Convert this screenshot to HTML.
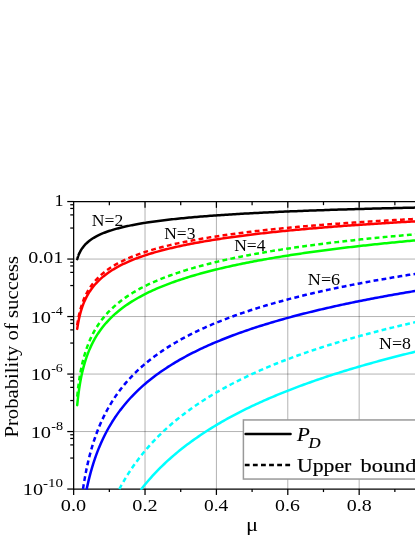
<!DOCTYPE html><html><head><meta charset="utf-8"><style>html,body{margin:0;padding:0;background:#fff}body{width:415px;height:537px;overflow:hidden;font-family:"Liberation Serif",serif}</style></head><body><div style="will-change:transform;width:415px;height:537px"><svg width="415" height="537" viewBox="0 0 415 537" style="display:block;font-family:'Liberation Serif',serif"><rect width="415" height="537" fill="#fff"/><line x1="145.03" y1="201.55" x2="145.03" y2="489.05" stroke="#000" stroke-opacity="0.3" stroke-width="1"/><line x1="216.41" y1="201.55" x2="216.41" y2="489.05" stroke="#000" stroke-opacity="0.3" stroke-width="1"/><line x1="287.79" y1="201.55" x2="287.79" y2="489.05" stroke="#000" stroke-opacity="0.3" stroke-width="1"/><line x1="359.17" y1="201.55" x2="359.17" y2="489.05" stroke="#000" stroke-opacity="0.3" stroke-width="1"/><line x1="73.65" y1="259.05" x2="415" y2="259.05" stroke="#000" stroke-opacity="0.3" stroke-width="1"/><line x1="73.65" y1="316.55" x2="415" y2="316.55" stroke="#000" stroke-opacity="0.3" stroke-width="1"/><line x1="73.65" y1="374.05" x2="415" y2="374.05" stroke="#000" stroke-opacity="0.3" stroke-width="1"/><line x1="73.65" y1="431.55" x2="415" y2="431.55" stroke="#000" stroke-opacity="0.3" stroke-width="1"/><g stroke="#000" stroke-width="1.25" fill="none"><line x1="73.65" y1="200.93" x2="73.65" y2="489.68"/><line x1="73.65" y1="201.55" x2="415" y2="201.55"/><line x1="73.65" y1="489.05" x2="415" y2="489.05"/><line x1="73.65" y1="489.05" x2="73.65" y2="494.95"/><line x1="109.34" y1="489.05" x2="109.34" y2="492.05"/><line x1="109.34" y1="201.55" x2="109.34" y2="205.15"/><line x1="145.03" y1="489.05" x2="145.03" y2="494.95"/><line x1="145.03" y1="201.55" x2="145.03" y2="207.85"/><line x1="180.72" y1="489.05" x2="180.72" y2="492.05"/><line x1="180.72" y1="201.55" x2="180.72" y2="205.15"/><line x1="216.41" y1="489.05" x2="216.41" y2="494.95"/><line x1="216.41" y1="201.55" x2="216.41" y2="207.85"/><line x1="252.10" y1="489.05" x2="252.10" y2="492.05"/><line x1="252.10" y1="201.55" x2="252.10" y2="205.15"/><line x1="287.79" y1="489.05" x2="287.79" y2="494.95"/><line x1="287.79" y1="201.55" x2="287.79" y2="207.85"/><line x1="323.48" y1="489.05" x2="323.48" y2="492.05"/><line x1="323.48" y1="201.55" x2="323.48" y2="205.15"/><line x1="359.17" y1="489.05" x2="359.17" y2="494.95"/><line x1="359.17" y1="201.55" x2="359.17" y2="207.85"/><line x1="394.86" y1="489.05" x2="394.86" y2="492.05"/><line x1="394.86" y1="201.55" x2="394.86" y2="205.15"/><line x1="67.25" y1="201.55" x2="73.65" y2="201.55"/><line x1="70.25" y1="204.75" x2="73.65" y2="204.75"/><line x1="70.25" y1="208.45" x2="73.65" y2="208.45"/><line x1="70.25" y1="214.90" x2="73.65" y2="214.90"/><line x1="70.25" y1="228.05" x2="73.65" y2="228.05"/><line x1="67.25" y1="259.05" x2="73.65" y2="259.05"/><line x1="70.25" y1="262.25" x2="73.65" y2="262.25"/><line x1="70.25" y1="265.95" x2="73.65" y2="265.95"/><line x1="70.25" y1="272.40" x2="73.65" y2="272.40"/><line x1="70.25" y1="285.55" x2="73.65" y2="285.55"/><line x1="67.25" y1="316.55" x2="73.65" y2="316.55"/><line x1="70.25" y1="319.75" x2="73.65" y2="319.75"/><line x1="70.25" y1="323.45" x2="73.65" y2="323.45"/><line x1="70.25" y1="329.90" x2="73.65" y2="329.90"/><line x1="70.25" y1="343.05" x2="73.65" y2="343.05"/><line x1="67.25" y1="374.05" x2="73.65" y2="374.05"/><line x1="70.25" y1="377.25" x2="73.65" y2="377.25"/><line x1="70.25" y1="380.95" x2="73.65" y2="380.95"/><line x1="70.25" y1="387.40" x2="73.65" y2="387.40"/><line x1="70.25" y1="400.55" x2="73.65" y2="400.55"/><line x1="67.25" y1="431.55" x2="73.65" y2="431.55"/><line x1="70.25" y1="434.75" x2="73.65" y2="434.75"/><line x1="70.25" y1="438.45" x2="73.65" y2="438.45"/><line x1="70.25" y1="444.90" x2="73.65" y2="444.90"/><line x1="70.25" y1="458.05" x2="73.65" y2="458.05"/><line x1="67.25" y1="489.05" x2="73.65" y2="489.05"/></g><defs><clipPath id="cp"><rect x="73.65" y="201.55" width="346.35" height="288.20"/></clipPath></defs><g stroke-linejoin="round" clip-path="url(#cp)"><path d="M119.34,489.05 L119.51,488.73 L120.45,487.00 L121.40,485.27 L122.37,483.54 L123.36,481.81 L124.37,480.09 L125.40,478.36 L126.45,476.64 L127.52,474.91 L128.61,473.19 L129.73,471.46 L130.87,469.74 L132.03,468.02 L133.21,466.30 L134.42,464.58 L135.66,462.86 L136.92,461.14 L138.20,459.42 L139.51,457.71 L140.85,455.99 L142.22,454.27 L143.61,452.56 L145.03,450.84 L146.95,448.59 L148.86,446.39 L150.78,444.25 L152.69,442.16 L154.61,440.13 L156.53,438.14 L158.44,436.20 L160.36,434.31 L162.28,432.46 L164.19,430.65 L166.11,428.87 L168.02,427.14 L169.94,425.44 L171.86,423.78 L173.77,422.15 L175.69,420.55 L177.61,418.98 L179.52,417.44 L181.44,415.93 L183.35,414.45 L185.27,413.00 L187.19,411.57 L189.10,410.16 L191.02,408.78 L192.94,407.42 L194.85,406.09 L196.77,404.78 L198.68,403.49 L200.60,402.21 L202.52,400.96 L204.43,399.73 L206.35,398.52 L208.27,397.32 L210.18,396.15 L212.10,394.99 L214.01,393.84 L215.93,392.72 L217.85,391.61 L219.76,390.51 L221.68,389.43 L223.60,388.36 L225.51,387.31 L227.43,386.28 L229.34,385.25 L231.26,384.24 L233.18,383.24 L235.09,382.26 L237.01,381.28 L238.93,380.32 L240.84,379.37 L242.76,378.44 L244.67,377.51 L246.59,376.59 L248.51,375.69 L250.42,374.79 L252.34,373.91 L254.26,373.04 L256.17,372.17 L258.09,371.32 L260.00,370.47 L261.92,369.64 L263.84,368.81 L265.75,367.99 L267.67,367.18 L269.59,366.38 L271.50,365.59 L273.42,364.80 L275.33,364.03 L277.25,363.26 L279.17,362.50 L281.08,361.75 L283.00,361.00 L284.92,360.26 L286.83,359.53 L288.75,358.81 L290.66,358.09 L292.58,357.38 L294.50,356.68 L296.41,355.98 L298.33,355.29 L300.25,354.61 L302.16,353.93 L304.08,353.26 L305.99,352.59 L307.91,351.93 L309.83,351.28 L311.74,350.63 L313.66,349.99 L315.58,349.35 L317.49,348.72 L319.41,348.09 L321.32,347.47 L323.24,346.85 L325.16,346.24 L327.07,345.64 L328.99,345.04 L330.91,344.44 L332.82,343.85 L334.74,343.27 L336.65,342.69 L338.57,342.11 L340.49,341.54 L342.40,340.97 L344.32,340.41 L346.24,339.85 L348.15,339.29 L350.07,338.74 L351.98,338.20 L353.90,337.66 L355.82,337.12 L357.73,336.59 L359.65,336.06 L361.57,335.53 L363.48,335.01 L365.40,334.49 L367.31,333.98 L369.23,333.47 L371.15,332.96 L373.06,332.46 L374.98,331.96 L376.90,331.46 L378.81,330.97 L380.73,330.48 L382.64,329.99 L384.56,329.51 L386.48,329.03 L388.39,328.55 L390.31,328.08 L392.23,327.61 L394.14,327.15 L396.06,326.68 L397.97,326.22 L399.89,325.77 L401.81,325.31 L403.72,324.86 L405.64,324.41 L407.56,323.97 L409.47,323.53 L411.39,323.09 L413.30,322.65 L415.22,322.22 L417.14,321.78 L419.05,321.36 L420.97,320.93 L422.89,320.51 L424.80,320.09 L426.72,319.67 L428.63,319.25 L430.55,318.84" fill="none" stroke="#00ffff" stroke-width="2.50" stroke-dasharray="4.8,3.3"/><path d="M141.35,489.05 L142.22,487.95 L143.61,486.22 L145.03,484.49 L146.95,482.20 L148.86,479.98 L150.78,477.81 L152.69,475.70 L154.61,473.63 L156.53,471.62 L158.44,469.65 L160.36,467.73 L162.28,465.85 L164.19,464.01 L166.11,462.21 L168.02,460.45 L169.94,458.72 L171.86,457.03 L173.77,455.37 L175.69,453.75 L177.61,452.15 L179.52,450.59 L181.44,449.05 L183.35,447.54 L185.27,446.06 L187.19,444.60 L189.10,443.17 L191.02,441.76 L192.94,440.37 L194.85,439.01 L196.77,437.67 L198.68,436.35 L200.60,435.05 L202.52,433.77 L204.43,432.51 L206.35,431.27 L208.27,430.04 L210.18,428.84 L212.10,427.65 L214.01,426.48 L215.93,425.32 L217.85,424.18 L219.76,423.06 L221.68,421.95 L223.60,420.86 L225.51,419.78 L227.43,418.71 L229.34,417.66 L231.26,416.62 L233.18,415.59 L235.09,414.58 L237.01,413.57 L238.93,412.58 L240.84,411.61 L242.76,410.64 L244.67,409.68 L246.59,408.74 L248.51,407.80 L250.42,406.88 L252.34,405.97 L254.26,405.06 L256.17,404.17 L258.09,403.29 L260.00,402.41 L261.92,401.55 L263.84,400.69 L265.75,399.84 L267.67,399.01 L269.59,398.18 L271.50,397.35 L273.42,396.54 L275.33,395.74 L277.25,394.94 L279.17,394.15 L281.08,393.37 L283.00,392.59 L284.92,391.82 L286.83,391.06 L288.75,390.31 L290.66,389.56 L292.58,388.82 L294.50,388.09 L296.41,387.36 L298.33,386.64 L300.25,385.93 L302.16,385.22 L304.08,384.52 L305.99,383.83 L307.91,383.14 L309.83,382.45 L311.74,381.77 L313.66,381.10 L315.58,380.44 L317.49,379.77 L319.41,379.12 L321.32,378.47 L323.24,377.82 L325.16,377.18 L327.07,376.55 L328.99,375.92 L330.91,375.29 L332.82,374.67 L334.74,374.06 L336.65,373.45 L338.57,372.84 L340.49,372.24 L342.40,371.64 L344.32,371.05 L346.24,370.46 L348.15,369.88 L350.07,369.30 L351.98,368.72 L353.90,368.15 L355.82,367.58 L357.73,367.02 L359.65,366.46 L361.57,365.90 L363.48,365.35 L365.40,364.80 L367.31,364.26 L369.23,363.72 L371.15,363.18 L373.06,362.65 L374.98,362.12 L376.90,361.59 L378.81,361.07 L380.73,360.55 L382.64,360.04 L384.56,359.52 L386.48,359.01 L388.39,358.51 L390.31,358.01 L392.23,357.51 L394.14,357.01 L396.06,356.52 L397.97,356.03 L399.89,355.54 L401.81,355.06 L403.72,354.58 L405.64,354.10 L407.56,353.62 L409.47,353.15 L411.39,352.68 L413.30,352.21 L415.22,351.75 L417.14,351.29 L419.05,350.83 L420.97,350.37 L422.89,349.92 L424.80,349.47 L426.72,349.02 L428.63,348.58 L430.55,348.14" fill="none" stroke="#00ffff" stroke-width="2.50" stroke-linecap="round"/><path d="M82.99,489.05 L83.02,488.85 L83.21,487.60 L83.40,486.35 L83.60,485.10 L83.80,483.85 L84.01,482.60 L84.22,481.35 L84.43,480.11 L84.65,478.86 L84.88,477.61 L85.10,476.36 L85.34,475.11 L85.57,473.86 L85.82,472.61 L86.06,471.37 L86.32,470.12 L86.57,468.87 L86.84,467.62 L87.10,466.38 L87.38,465.13 L87.66,463.88 L87.94,462.63 L88.23,461.39 L88.53,460.14 L88.83,458.90 L89.14,457.65 L89.45,456.40 L89.77,455.16 L90.10,453.91 L90.43,452.67 L90.77,451.42 L91.12,450.18 L91.48,448.93 L91.84,447.69 L92.21,446.44 L92.59,445.20 L92.97,443.95 L93.36,442.71 L93.76,441.47 L94.17,440.22 L94.59,438.98 L95.01,437.74 L95.45,436.49 L95.89,435.25 L96.34,434.01 L96.80,432.77 L97.27,431.53 L97.75,430.29 L98.24,429.04 L98.74,427.80 L99.25,426.56 L99.77,425.32 L100.30,424.08 L100.84,422.84 L101.39,421.61 L101.96,420.37 L102.53,419.13 L103.12,417.89 L103.72,416.65 L104.33,415.41 L104.95,414.18 L105.59,412.94 L106.24,411.70 L106.90,410.47 L107.57,409.23 L108.26,408.00 L108.97,406.76 L109.68,405.53 L110.41,404.30 L111.16,403.06 L111.92,401.83 L112.70,400.60 L113.49,399.36 L114.30,398.13 L115.13,396.90 L115.97,395.67 L116.83,394.44 L117.71,393.21 L118.60,391.98 L119.51,390.75 L120.45,389.52 L121.40,388.30 L122.37,387.07 L123.36,385.84 L124.37,384.62 L125.40,383.39 L126.45,382.17 L127.52,380.94 L128.61,379.72 L129.73,378.50 L130.87,377.28 L132.03,376.05 L133.21,374.83 L134.42,373.61 L135.66,372.39 L136.92,371.18 L138.20,369.96 L139.51,368.74 L140.85,367.52 L142.22,366.31 L143.61,365.09 L145.03,363.88 L146.95,362.28 L148.86,360.73 L150.78,359.21 L152.69,357.73 L154.61,356.29 L156.53,354.89 L158.44,353.52 L160.36,352.18 L162.28,350.87 L164.19,349.59 L166.11,348.34 L168.02,347.11 L169.94,345.91 L171.86,344.74 L173.77,343.59 L175.69,342.46 L177.61,341.35 L179.52,340.27 L181.44,339.20 L183.35,338.16 L185.27,337.13 L187.19,336.13 L189.10,335.14 L191.02,334.16 L192.94,333.21 L194.85,332.27 L196.77,331.35 L198.68,330.44 L200.60,329.54 L202.52,328.66 L204.43,327.80 L206.35,326.94 L208.27,326.10 L210.18,325.28 L212.10,324.46 L214.01,323.66 L215.93,322.87 L217.85,322.09 L219.76,321.32 L221.68,320.56 L223.60,319.81 L225.51,319.08 L227.43,318.35 L229.34,317.63 L231.26,316.92 L233.18,316.22 L235.09,315.53 L237.01,314.85 L238.93,314.18 L240.84,313.51 L242.76,312.86 L244.67,312.21 L246.59,311.57 L248.51,310.94 L250.42,310.31 L252.34,309.69 L254.26,309.08 L256.17,308.48 L258.09,307.88 L260.00,307.29 L261.92,306.71 L263.84,306.13 L265.75,305.56 L267.67,305.00 L269.59,304.44 L271.50,303.88 L273.42,303.34 L275.33,302.80 L277.25,302.26 L279.17,301.73 L281.08,301.21 L283.00,300.69 L284.92,300.18 L286.83,299.67 L288.75,299.16 L290.66,298.66 L292.58,298.17 L294.50,297.68 L296.41,297.20 L298.33,296.72 L300.25,296.24 L302.16,295.77 L304.08,295.30 L305.99,294.84 L307.91,294.38 L309.83,293.93 L311.74,293.48 L313.66,293.04 L315.58,292.59 L317.49,292.16 L319.41,291.72 L321.32,291.29 L323.24,290.87 L325.16,290.44 L327.07,290.03 L328.99,289.61 L330.91,289.20 L332.82,288.79 L334.74,288.38 L336.65,287.98 L338.57,287.58 L340.49,287.19 L342.40,286.80 L344.32,286.41 L346.24,286.02 L348.15,285.64 L350.07,285.26 L351.98,284.88 L353.90,284.51 L355.82,284.14 L357.73,283.77 L359.65,283.41 L361.57,283.05 L363.48,282.69 L365.40,282.33 L367.31,281.98 L369.23,281.62 L371.15,281.27 L373.06,280.93 L374.98,280.59 L376.90,280.24 L378.81,279.91 L380.73,279.57 L382.64,279.24 L384.56,278.90 L386.48,278.58 L388.39,278.25 L390.31,277.92 L392.23,277.60 L394.14,277.28 L396.06,276.96 L397.97,276.65 L399.89,276.34 L401.81,276.03 L403.72,275.72 L405.64,275.41 L407.56,275.10 L409.47,274.80 L411.39,274.50 L413.30,274.20 L415.22,273.91 L417.14,273.61 L419.05,273.32 L420.97,273.03 L422.89,272.74 L424.80,272.45 L426.72,272.17 L428.63,271.88 L430.55,271.60" fill="none" stroke="#0000ff" stroke-width="2.50" stroke-dasharray="4.8,3.3"/><path d="M86.69,489.05 L86.84,488.37 L87.10,487.12 L87.38,485.87 L87.66,484.62 L87.94,483.37 L88.23,482.12 L88.53,480.87 L88.83,479.62 L89.14,478.37 L89.45,477.12 L89.77,475.87 L90.10,474.62 L90.43,473.37 L90.77,472.12 L91.12,470.87 L91.48,469.62 L91.84,468.38 L92.21,467.13 L92.59,465.88 L92.97,464.63 L93.36,463.38 L93.76,462.13 L94.17,460.89 L94.59,459.64 L95.01,458.39 L95.45,457.14 L95.89,455.89 L96.34,454.65 L96.80,453.40 L97.27,452.15 L97.75,450.91 L98.24,449.66 L98.74,448.41 L99.25,447.17 L99.77,445.92 L100.30,444.67 L100.84,443.43 L101.39,442.18 L101.96,440.94 L102.53,439.69 L103.12,438.45 L103.72,437.20 L104.33,435.96 L104.95,434.71 L105.59,433.47 L106.24,432.23 L106.90,430.98 L107.57,429.74 L108.26,428.50 L108.97,427.25 L109.68,426.01 L110.41,424.77 L111.16,423.53 L111.92,422.28 L112.70,421.04 L113.49,419.80 L114.30,418.56 L115.13,417.32 L115.97,416.08 L116.83,414.84 L117.71,413.60 L118.60,412.36 L119.51,411.12 L120.45,409.88 L121.40,408.64 L122.37,407.41 L123.36,406.17 L124.37,404.93 L125.40,403.69 L126.45,402.46 L127.52,401.22 L128.61,399.98 L129.73,398.75 L130.87,397.51 L132.03,396.28 L133.21,395.04 L134.42,393.81 L135.66,392.58 L136.92,391.34 L138.20,390.11 L139.51,388.88 L140.85,387.65 L142.22,386.41 L143.61,385.18 L145.03,383.95 L146.95,382.33 L148.86,380.75 L150.78,379.22 L152.69,377.72 L154.61,376.26 L156.53,374.83 L158.44,373.44 L160.36,372.08 L162.28,370.74 L164.19,369.44 L166.11,368.17 L168.02,366.92 L169.94,365.70 L171.86,364.50 L173.77,363.33 L175.69,362.18 L177.61,361.05 L179.52,359.95 L181.44,358.86 L183.35,357.79 L185.27,356.74 L187.19,355.72 L189.10,354.70 L191.02,353.71 L192.94,352.73 L194.85,351.77 L196.77,350.83 L198.68,349.90 L200.60,348.98 L202.52,348.08 L204.43,347.19 L206.35,346.31 L208.27,345.45 L210.18,344.60 L212.10,343.77 L214.01,342.94 L215.93,342.13 L217.85,341.33 L219.76,340.54 L221.68,339.76 L223.60,338.99 L225.51,338.23 L227.43,337.48 L229.34,336.74 L231.26,336.01 L233.18,335.29 L235.09,334.58 L237.01,333.88 L238.93,333.18 L240.84,332.49 L242.76,331.82 L244.67,331.15 L246.59,330.49 L248.51,329.83 L250.42,329.18 L252.34,328.54 L254.26,327.91 L256.17,327.29 L258.09,326.67 L260.00,326.06 L261.92,325.45 L263.84,324.85 L265.75,324.26 L267.67,323.68 L269.59,323.10 L271.50,322.52 L273.42,321.95 L275.33,321.39 L277.25,320.83 L279.17,320.28 L281.08,319.74 L283.00,319.20 L284.92,318.66 L286.83,318.13 L288.75,317.61 L290.66,317.09 L292.58,316.57 L294.50,316.06 L296.41,315.56 L298.33,315.05 L300.25,314.56 L302.16,314.07 L304.08,313.58 L305.99,313.10 L307.91,312.62 L309.83,312.14 L311.74,311.67 L313.66,311.20 L315.58,310.74 L317.49,310.28 L319.41,309.83 L321.32,309.38 L323.24,308.93 L325.16,308.49 L327.07,308.05 L328.99,307.61 L330.91,307.18 L332.82,306.75 L334.74,306.32 L336.65,305.90 L338.57,305.48 L340.49,305.06 L342.40,304.65 L344.32,304.24 L346.24,303.83 L348.15,303.43 L350.07,303.03 L351.98,302.63 L353.90,302.24 L355.82,301.84 L357.73,301.46 L359.65,301.07 L361.57,300.69 L363.48,300.31 L365.40,299.93 L367.31,299.55 L369.23,299.18 L371.15,298.81 L373.06,298.45 L374.98,298.08 L376.90,297.72 L378.81,297.36 L380.73,297.00 L382.64,296.65 L384.56,296.30 L386.48,295.95 L388.39,295.60 L390.31,295.26 L392.23,294.91 L394.14,294.57 L396.06,294.23 L397.97,293.90 L399.89,293.56 L401.81,293.23 L403.72,292.90 L405.64,292.58 L407.56,292.25 L409.47,291.93 L411.39,291.61 L413.30,291.29 L415.22,290.97 L417.14,290.65 L419.05,290.34 L420.97,290.03 L422.89,289.72 L424.80,289.41 L426.72,289.11 L428.63,288.80 L430.55,288.50" fill="none" stroke="#0000ff" stroke-width="2.50" stroke-linecap="round"/><path d="M77.22,396.52 L77.29,395.76 L77.37,395.01 L77.44,394.26 L77.52,393.51 L77.60,392.76 L77.68,392.01 L77.76,391.26 L77.84,390.51 L77.93,389.76 L78.01,389.01 L78.10,388.25 L78.19,387.50 L78.29,386.75 L78.38,386.00 L78.48,385.25 L78.57,384.50 L78.67,383.75 L78.78,383.00 L78.88,382.25 L78.99,381.50 L79.09,380.75 L79.20,380.00 L79.32,379.25 L79.43,378.50 L79.55,377.75 L79.67,377.00 L79.79,376.25 L79.92,375.50 L80.04,374.75 L80.17,374.00 L80.31,373.25 L80.44,372.50 L80.58,371.75 L80.72,371.00 L80.86,370.25 L81.01,369.50 L81.16,368.75 L81.31,368.00 L81.47,367.26 L81.63,366.51 L81.79,365.76 L81.95,365.01 L82.12,364.26 L82.29,363.51 L82.47,362.76 L82.65,362.01 L82.83,361.27 L83.02,360.52 L83.21,359.77 L83.40,359.02 L83.60,358.27 L83.80,357.53 L84.01,356.78 L84.22,356.03 L84.43,355.28 L84.65,354.54 L84.88,353.79 L85.10,353.04 L85.34,352.29 L85.57,351.55 L85.82,350.80 L86.06,350.05 L86.32,349.31 L86.57,348.56 L86.84,347.82 L87.10,347.07 L87.38,346.32 L87.66,345.58 L87.94,344.83 L88.23,344.09 L88.53,343.34 L88.83,342.60 L89.14,341.85 L89.45,341.11 L89.77,340.36 L90.10,339.62 L90.43,338.87 L90.77,338.13 L91.12,337.38 L91.48,336.64 L91.84,335.90 L92.21,335.15 L92.59,334.41 L92.97,333.67 L93.36,332.92 L93.76,332.18 L94.17,331.44 L94.59,330.70 L95.01,329.95 L95.45,329.21 L95.89,328.47 L96.34,327.73 L96.80,326.99 L97.27,326.25 L97.75,325.51 L98.24,324.77 L98.74,324.03 L99.25,323.29 L99.77,322.55 L100.30,321.81 L100.84,321.07 L101.39,320.33 L101.96,319.59 L102.53,318.85 L103.12,318.12 L103.72,317.38 L104.33,316.64 L104.95,315.91 L105.59,315.17 L106.24,314.43 L106.90,313.70 L107.57,312.96 L108.26,312.23 L108.97,311.49 L109.68,310.76 L110.41,310.02 L111.16,309.29 L111.92,308.56 L112.70,307.82 L113.49,307.09 L114.30,306.36 L115.13,305.63 L115.97,304.90 L116.83,304.17 L117.71,303.44 L118.60,302.71 L119.51,301.98 L120.45,301.25 L121.40,300.52 L122.37,299.79 L123.36,299.06 L124.37,298.34 L125.40,297.61 L126.45,296.88 L127.52,296.16 L128.61,295.43 L129.73,294.71 L130.87,293.99 L132.03,293.26 L133.21,292.54 L134.42,291.82 L135.66,291.10 L136.92,290.38 L138.20,289.66 L139.51,288.94 L140.85,288.22 L142.22,287.50 L143.61,286.79 L145.03,286.07 L146.95,285.13 L148.86,284.21 L150.78,283.32 L152.69,282.45 L154.61,281.60 L156.53,280.78 L158.44,279.97 L160.36,279.18 L162.28,278.41 L164.19,277.66 L166.11,276.93 L168.02,276.21 L169.94,275.50 L171.86,274.82 L173.77,274.14 L175.69,273.48 L177.61,272.83 L179.52,272.20 L181.44,271.58 L183.35,270.97 L185.27,270.37 L187.19,269.78 L189.10,269.20 L191.02,268.63 L192.94,268.08 L194.85,267.53 L196.77,266.99 L198.68,266.46 L200.60,265.94 L202.52,265.43 L204.43,264.93 L206.35,264.43 L208.27,263.94 L210.18,263.46 L212.10,262.99 L214.01,262.52 L215.93,262.07 L217.85,261.61 L219.76,261.17 L221.68,260.73 L223.60,260.30 L225.51,259.87 L227.43,259.45 L229.34,259.03 L231.26,258.63 L233.18,258.22 L235.09,257.82 L237.01,257.43 L238.93,257.04 L240.84,256.66 L242.76,256.28 L244.67,255.91 L246.59,255.54 L248.51,255.18 L250.42,254.82 L252.34,254.46 L254.26,254.11 L256.17,253.77 L258.09,253.42 L260.00,253.09 L261.92,252.75 L263.84,252.42 L265.75,252.09 L267.67,251.77 L269.59,251.45 L271.50,251.14 L273.42,250.82 L275.33,250.52 L277.25,250.21 L279.17,249.91 L281.08,249.61 L283.00,249.31 L284.92,249.02 L286.83,248.73 L288.75,248.45 L290.66,248.16 L292.58,247.88 L294.50,247.60 L296.41,247.33 L298.33,247.06 L300.25,246.79 L302.16,246.52 L304.08,246.26 L305.99,245.99 L307.91,245.73 L309.83,245.48 L311.74,245.22 L313.66,244.97 L315.58,244.72 L317.49,244.48 L319.41,244.23 L321.32,243.99 L323.24,243.75 L325.16,243.51 L327.07,243.27 L328.99,243.04 L330.91,242.81 L332.82,242.58 L334.74,242.35 L336.65,242.13 L338.57,241.90 L340.49,241.68 L342.40,241.46 L344.32,241.24 L346.24,241.03 L348.15,240.81 L350.07,240.60 L351.98,240.39 L353.90,240.18 L355.82,239.97 L357.73,239.77 L359.65,239.56 L361.57,239.36 L363.48,239.16 L365.40,238.96 L367.31,238.77 L369.23,238.57 L371.15,238.38 L373.06,238.18 L374.98,237.99 L376.90,237.80 L378.81,237.62 L380.73,237.43 L382.64,237.24 L384.56,237.06 L386.48,236.88 L388.39,236.70 L390.31,236.52 L392.23,236.34 L394.14,236.16 L396.06,235.99 L397.97,235.81 L399.89,235.64 L401.81,235.47 L403.72,235.30 L405.64,235.13 L407.56,234.96 L409.47,234.80 L411.39,234.63 L413.30,234.47 L415.22,234.30 L417.14,234.14 L419.05,233.98 L420.97,233.82 L422.89,233.66 L424.80,233.50 L426.72,233.35 L428.63,233.19 L430.55,233.04" fill="none" stroke="#00ff00" stroke-width="2.50" stroke-dasharray="4.8,3.3"/><path d="M77.22,405.14 L77.29,404.39 L77.37,403.64 L77.44,402.88 L77.52,402.13 L77.60,401.38 L77.68,400.63 L77.76,399.88 L77.84,399.12 L77.93,398.37 L78.01,397.62 L78.10,396.87 L78.19,396.12 L78.29,395.37 L78.38,394.62 L78.48,393.86 L78.57,393.11 L78.67,392.36 L78.78,391.61 L78.88,390.86 L78.99,390.11 L79.09,389.36 L79.20,388.61 L79.32,387.85 L79.43,387.10 L79.55,386.35 L79.67,385.60 L79.79,384.85 L79.92,384.10 L80.04,383.35 L80.17,382.60 L80.31,381.85 L80.44,381.10 L80.58,380.35 L80.72,379.59 L80.86,378.84 L81.01,378.09 L81.16,377.34 L81.31,376.59 L81.47,375.84 L81.63,375.09 L81.79,374.34 L81.95,373.59 L82.12,372.84 L82.29,372.09 L82.47,371.34 L82.65,370.59 L82.83,369.84 L83.02,369.09 L83.21,368.34 L83.40,367.59 L83.60,366.84 L83.80,366.09 L84.01,365.34 L84.22,364.59 L84.43,363.84 L84.65,363.09 L84.88,362.35 L85.10,361.60 L85.34,360.85 L85.57,360.10 L85.82,359.35 L86.06,358.60 L86.32,357.85 L86.57,357.10 L86.84,356.36 L87.10,355.61 L87.38,354.86 L87.66,354.11 L87.94,353.36 L88.23,352.61 L88.53,351.87 L88.83,351.12 L89.14,350.37 L89.45,349.62 L89.77,348.88 L90.10,348.13 L90.43,347.38 L90.77,346.63 L91.12,345.89 L91.48,345.14 L91.84,344.39 L92.21,343.65 L92.59,342.90 L92.97,342.15 L93.36,341.41 L93.76,340.66 L94.17,339.92 L94.59,339.17 L95.01,338.42 L95.45,337.68 L95.89,336.93 L96.34,336.19 L96.80,335.44 L97.27,334.70 L97.75,333.95 L98.24,333.21 L98.74,332.46 L99.25,331.72 L99.77,330.98 L100.30,330.23 L100.84,329.49 L101.39,328.75 L101.96,328.00 L102.53,327.26 L103.12,326.52 L103.72,325.77 L104.33,325.03 L104.95,324.29 L105.59,323.55 L106.24,322.81 L106.90,322.07 L107.57,321.32 L108.26,320.58 L108.97,319.84 L109.68,319.10 L110.41,318.36 L111.16,317.62 L111.92,316.88 L112.70,316.14 L113.49,315.40 L114.30,314.66 L115.13,313.93 L115.97,313.19 L116.83,312.45 L117.71,311.71 L118.60,310.98 L119.51,310.24 L120.45,309.50 L121.40,308.77 L122.37,308.03 L123.36,307.29 L124.37,306.56 L125.40,305.82 L126.45,305.09 L127.52,304.36 L128.61,303.62 L129.73,302.89 L130.87,302.16 L132.03,301.42 L133.21,300.69 L134.42,299.96 L135.66,299.23 L136.92,298.50 L138.20,297.77 L139.51,297.04 L140.85,296.31 L142.22,295.58 L143.61,294.85 L145.03,294.12 L146.95,293.16 L148.86,292.23 L150.78,291.32 L152.69,290.44 L154.61,289.58 L156.53,288.73 L158.44,287.91 L160.36,287.11 L162.28,286.32 L164.19,285.56 L166.11,284.81 L168.02,284.07 L169.94,283.35 L171.86,282.65 L173.77,281.96 L175.69,281.29 L177.61,280.62 L179.52,279.97 L181.44,279.34 L183.35,278.71 L185.27,278.10 L187.19,277.49 L189.10,276.90 L191.02,276.32 L192.94,275.75 L194.85,275.18 L196.77,274.63 L198.68,274.09 L200.60,273.55 L202.52,273.02 L204.43,272.51 L206.35,272.00 L208.27,271.49 L210.18,271.00 L212.10,270.51 L214.01,270.03 L215.93,269.56 L217.85,269.09 L219.76,268.63 L221.68,268.18 L223.60,267.73 L225.51,267.29 L227.43,266.85 L229.34,266.42 L231.26,266.00 L233.18,265.58 L235.09,265.17 L237.01,264.76 L238.93,264.36 L240.84,263.96 L242.76,263.57 L244.67,263.19 L246.59,262.80 L248.51,262.42 L250.42,262.05 L252.34,261.68 L254.26,261.32 L256.17,260.96 L258.09,260.60 L260.00,260.25 L261.92,259.90 L263.84,259.56 L265.75,259.21 L267.67,258.88 L269.59,258.54 L271.50,258.21 L273.42,257.89 L275.33,257.57 L277.25,257.25 L279.17,256.93 L281.08,256.62 L283.00,256.31 L284.92,256.00 L286.83,255.70 L288.75,255.40 L290.66,255.10 L292.58,254.81 L294.50,254.52 L296.41,254.23 L298.33,253.94 L300.25,253.66 L302.16,253.38 L304.08,253.10 L305.99,252.83 L307.91,252.55 L309.83,252.28 L311.74,252.02 L313.66,251.75 L315.58,251.49 L317.49,251.23 L319.41,250.97 L321.32,250.71 L323.24,250.46 L325.16,250.21 L327.07,249.96 L328.99,249.71 L330.91,249.47 L332.82,249.22 L334.74,248.98 L336.65,248.75 L338.57,248.51 L340.49,248.27 L342.40,248.04 L344.32,247.81 L346.24,247.58 L348.15,247.35 L350.07,247.13 L351.98,246.91 L353.90,246.68 L355.82,246.46 L357.73,246.25 L359.65,246.03 L361.57,245.81 L363.48,245.60 L365.40,245.39 L367.31,245.18 L369.23,244.97 L371.15,244.76 L373.06,244.56 L374.98,244.36 L376.90,244.15 L378.81,243.95 L380.73,243.75 L382.64,243.56 L384.56,243.36 L386.48,243.17 L388.39,242.97 L390.31,242.78 L392.23,242.59 L394.14,242.40 L396.06,242.21 L397.97,242.03 L399.89,241.84 L401.81,241.66 L403.72,241.47 L405.64,241.29 L407.56,241.11 L409.47,240.93 L411.39,240.76 L413.30,240.58 L415.22,240.40 L417.14,240.23 L419.05,240.06 L420.97,239.89 L422.89,239.71 L424.80,239.55 L426.72,239.38 L428.63,239.21 L430.55,239.04" fill="none" stroke="#00ff00" stroke-width="2.50" stroke-linecap="round"/><path d="M77.22,325.29 L77.29,324.79 L77.37,324.29 L77.44,323.79 L77.52,323.29 L77.60,322.79 L77.68,322.29 L77.76,321.79 L77.84,321.29 L77.93,320.79 L78.01,320.29 L78.10,319.79 L78.19,319.29 L78.29,318.79 L78.38,318.29 L78.48,317.79 L78.57,317.29 L78.67,316.79 L78.78,316.29 L78.88,315.79 L78.99,315.29 L79.09,314.79 L79.20,314.29 L79.32,313.79 L79.43,313.29 L79.55,312.79 L79.67,312.29 L79.79,311.79 L79.92,311.29 L80.04,310.79 L80.17,310.29 L80.31,309.80 L80.44,309.30 L80.58,308.80 L80.72,308.30 L80.86,307.80 L81.01,307.30 L81.16,306.80 L81.31,306.30 L81.47,305.81 L81.63,305.31 L81.79,304.81 L81.95,304.31 L82.12,303.81 L82.29,303.31 L82.47,302.82 L82.65,302.32 L82.83,301.82 L83.02,301.32 L83.21,300.83 L83.40,300.33 L83.60,299.83 L83.80,299.33 L84.01,298.84 L84.22,298.34 L84.43,297.84 L84.65,297.34 L84.88,296.85 L85.10,296.35 L85.34,295.85 L85.57,295.36 L85.82,294.86 L86.06,294.37 L86.32,293.87 L86.57,293.37 L86.84,292.88 L87.10,292.38 L87.38,291.89 L87.66,291.39 L87.94,290.89 L88.23,290.40 L88.53,289.90 L88.83,289.41 L89.14,288.91 L89.45,288.42 L89.77,287.92 L90.10,287.43 L90.43,286.94 L90.77,286.44 L91.12,285.95 L91.48,285.45 L91.84,284.96 L92.21,284.47 L92.59,283.97 L92.97,283.48 L93.36,282.99 L93.76,282.49 L94.17,282.00 L94.59,281.51 L95.01,281.02 L95.45,280.52 L95.89,280.03 L96.34,279.54 L96.80,279.05 L97.27,278.56 L97.75,278.07 L98.24,277.58 L98.74,277.09 L99.25,276.60 L99.77,276.11 L100.30,275.62 L100.84,275.13 L101.39,274.64 L101.96,274.15 L102.53,273.66 L103.12,273.17 L103.72,272.68 L104.33,272.20 L104.95,271.71 L105.59,271.22 L106.24,270.73 L106.90,270.25 L107.57,269.76 L108.26,269.27 L108.97,268.79 L109.68,268.30 L110.41,267.82 L111.16,267.33 L111.92,266.85 L112.70,266.36 L113.49,265.88 L114.30,265.40 L115.13,264.91 L115.97,264.43 L116.83,263.95 L117.71,263.47 L118.60,262.99 L119.51,262.50 L120.45,262.02 L121.40,261.54 L122.37,261.06 L123.36,260.59 L124.37,260.11 L125.40,259.63 L126.45,259.15 L127.52,258.67 L128.61,258.20 L129.73,257.72 L130.87,257.24 L132.03,256.77 L133.21,256.29 L134.42,255.82 L135.66,255.35 L136.92,254.87 L138.20,254.40 L139.51,253.93 L140.85,253.46 L142.22,252.99 L143.61,252.52 L145.03,252.05 L146.95,251.43 L148.86,250.83 L150.78,250.24 L152.69,249.67 L154.61,249.12 L156.53,248.58 L158.44,248.05 L160.36,247.54 L162.28,247.04 L164.19,246.55 L166.11,246.07 L168.02,245.60 L169.94,245.14 L171.86,244.69 L173.77,244.25 L175.69,243.82 L177.61,243.40 L179.52,242.99 L181.44,242.59 L183.35,242.19 L185.27,241.80 L187.19,241.42 L189.10,241.04 L191.02,240.68 L192.94,240.31 L194.85,239.96 L196.77,239.61 L198.68,239.27 L200.60,238.93 L202.52,238.60 L204.43,238.28 L206.35,237.96 L208.27,237.64 L210.18,237.33 L212.10,237.03 L214.01,236.73 L215.93,236.43 L217.85,236.14 L219.76,235.86 L221.68,235.57 L223.60,235.29 L225.51,235.02 L227.43,234.75 L229.34,234.48 L231.26,234.22 L233.18,233.96 L235.09,233.71 L237.01,233.46 L238.93,233.21 L240.84,232.96 L242.76,232.72 L244.67,232.48 L246.59,232.25 L248.51,232.01 L250.42,231.79 L252.34,231.56 L254.26,231.34 L256.17,231.11 L258.09,230.90 L260.00,230.68 L261.92,230.47 L263.84,230.26 L265.75,230.05 L267.67,229.85 L269.59,229.64 L271.50,229.44 L273.42,229.24 L275.33,229.05 L277.25,228.85 L279.17,228.66 L281.08,228.47 L283.00,228.29 L284.92,228.10 L286.83,227.92 L288.75,227.74 L290.66,227.56 L292.58,227.38 L294.50,227.21 L296.41,227.03 L298.33,226.86 L300.25,226.69 L302.16,226.52 L304.08,226.36 L305.99,226.19 L307.91,226.03 L309.83,225.87 L311.74,225.71 L313.66,225.55 L315.58,225.39 L317.49,225.24 L319.41,225.08 L321.32,224.93 L323.24,224.78 L325.16,224.63 L327.07,224.49 L328.99,224.34 L330.91,224.19 L332.82,224.05 L334.74,223.91 L336.65,223.77 L338.57,223.63 L340.49,223.49 L342.40,223.35 L344.32,223.22 L346.24,223.08 L348.15,222.95 L350.07,222.82 L351.98,222.69 L353.90,222.56 L355.82,222.43 L357.73,222.30 L359.65,222.18 L361.57,222.05 L363.48,221.93 L365.40,221.80 L367.31,221.68 L369.23,221.56 L371.15,221.44 L373.06,221.32 L374.98,221.20 L376.90,221.09 L378.81,220.97 L380.73,220.86 L382.64,220.74 L384.56,220.63 L386.48,220.52 L388.39,220.40 L390.31,220.29 L392.23,220.18 L394.14,220.08 L396.06,219.97 L397.97,219.86 L399.89,219.76 L401.81,219.65 L403.72,219.55 L405.64,219.44 L407.56,219.34 L409.47,219.24 L411.39,219.14 L413.30,219.04 L415.22,218.94 L417.14,218.84 L419.05,218.74 L420.97,218.64 L422.89,218.55 L424.80,218.45 L426.72,218.36 L428.63,218.26 L430.55,218.17" fill="none" stroke="#ff0000" stroke-width="2.50" stroke-dasharray="4.8,3.3"/><path d="M77.22,328.87 L77.29,328.37 L77.37,327.86 L77.44,327.36 L77.52,326.86 L77.60,326.36 L77.68,325.86 L77.76,325.36 L77.84,324.86 L77.93,324.36 L78.01,323.86 L78.10,323.36 L78.19,322.86 L78.29,322.36 L78.38,321.86 L78.48,321.36 L78.57,320.86 L78.67,320.36 L78.78,319.86 L78.88,319.36 L78.99,318.86 L79.09,318.36 L79.20,317.86 L79.32,317.36 L79.43,316.86 L79.55,316.36 L79.67,315.86 L79.79,315.36 L79.92,314.86 L80.04,314.36 L80.17,313.86 L80.31,313.36 L80.44,312.86 L80.58,312.36 L80.72,311.86 L80.86,311.36 L81.01,310.86 L81.16,310.37 L81.31,309.87 L81.47,309.37 L81.63,308.87 L81.79,308.37 L81.95,307.87 L82.12,307.37 L82.29,306.87 L82.47,306.37 L82.65,305.88 L82.83,305.38 L83.02,304.88 L83.21,304.38 L83.40,303.88 L83.60,303.38 L83.80,302.89 L84.01,302.39 L84.22,301.89 L84.43,301.39 L84.65,300.89 L84.88,300.40 L85.10,299.90 L85.34,299.40 L85.57,298.90 L85.82,298.41 L86.06,297.91 L86.32,297.41 L86.57,296.91 L86.84,296.42 L87.10,295.92 L87.38,295.42 L87.66,294.93 L87.94,294.43 L88.23,293.93 L88.53,293.44 L88.83,292.94 L89.14,292.45 L89.45,291.95 L89.77,291.45 L90.10,290.96 L90.43,290.46 L90.77,289.97 L91.12,289.47 L91.48,288.98 L91.84,288.48 L92.21,287.99 L92.59,287.49 L92.97,287.00 L93.36,286.50 L93.76,286.01 L94.17,285.51 L94.59,285.02 L95.01,284.53 L95.45,284.03 L95.89,283.54 L96.34,283.05 L96.80,282.55 L97.27,282.06 L97.75,281.57 L98.24,281.07 L98.74,280.58 L99.25,280.09 L99.77,279.60 L100.30,279.11 L100.84,278.61 L101.39,278.12 L101.96,277.63 L102.53,277.14 L103.12,276.65 L103.72,276.16 L104.33,275.67 L104.95,275.18 L105.59,274.69 L106.24,274.20 L106.90,273.71 L107.57,273.22 L108.26,272.73 L108.97,272.24 L109.68,271.76 L110.41,271.27 L111.16,270.78 L111.92,270.29 L112.70,269.81 L113.49,269.32 L114.30,268.83 L115.13,268.35 L115.97,267.86 L116.83,267.38 L117.71,266.89 L118.60,266.41 L119.51,265.92 L120.45,265.44 L121.40,264.95 L122.37,264.47 L123.36,263.99 L124.37,263.51 L125.40,263.02 L126.45,262.54 L127.52,262.06 L128.61,261.58 L129.73,261.10 L130.87,260.62 L132.03,260.14 L133.21,259.66 L134.42,259.18 L135.66,258.70 L136.92,258.22 L138.20,257.75 L139.51,257.27 L140.85,256.79 L142.22,256.32 L143.61,255.84 L145.03,255.37 L146.95,254.74 L148.86,254.14 L150.78,253.54 L152.69,252.97 L154.61,252.41 L156.53,251.86 L158.44,251.33 L160.36,250.80 L162.28,250.30 L164.19,249.80 L166.11,249.31 L168.02,248.84 L169.94,248.37 L171.86,247.92 L173.77,247.47 L175.69,247.03 L177.61,246.61 L179.52,246.19 L181.44,245.78 L183.35,245.37 L185.27,244.98 L187.19,244.59 L189.10,244.21 L191.02,243.83 L192.94,243.46 L194.85,243.10 L196.77,242.75 L198.68,242.40 L200.60,242.06 L202.52,241.72 L204.43,241.39 L206.35,241.06 L208.27,240.74 L210.18,240.42 L212.10,240.11 L214.01,239.80 L215.93,239.50 L217.85,239.20 L219.76,238.91 L221.68,238.62 L223.60,238.34 L225.51,238.06 L227.43,237.78 L229.34,237.51 L231.26,237.24 L233.18,236.97 L235.09,236.71 L237.01,236.45 L238.93,236.20 L240.84,235.95 L242.76,235.70 L244.67,235.45 L246.59,235.21 L248.51,234.97 L250.42,234.74 L252.34,234.50 L254.26,234.27 L256.17,234.05 L258.09,233.82 L260.00,233.60 L261.92,233.38 L263.84,233.16 L265.75,232.95 L267.67,232.74 L269.59,232.53 L271.50,232.32 L273.42,232.12 L275.33,231.92 L277.25,231.72 L279.17,231.52 L281.08,231.32 L283.00,231.13 L284.92,230.94 L286.83,230.75 L288.75,230.56 L290.66,230.38 L292.58,230.19 L294.50,230.01 L296.41,229.83 L298.33,229.65 L300.25,229.48 L302.16,229.30 L304.08,229.13 L305.99,228.96 L307.91,228.79 L309.83,228.62 L311.74,228.46 L313.66,228.29 L315.58,228.13 L317.49,227.97 L319.41,227.81 L321.32,227.65 L323.24,227.49 L325.16,227.34 L327.07,227.19 L328.99,227.03 L330.91,226.88 L332.82,226.73 L334.74,226.59 L336.65,226.44 L338.57,226.29 L340.49,226.15 L342.40,226.01 L344.32,225.86 L346.24,225.72 L348.15,225.58 L350.07,225.45 L351.98,225.31 L353.90,225.17 L355.82,225.04 L357.73,224.91 L359.65,224.77 L361.57,224.64 L363.48,224.51 L365.40,224.38 L367.31,224.26 L369.23,224.13 L371.15,224.00 L373.06,223.88 L374.98,223.76 L376.90,223.63 L378.81,223.51 L380.73,223.39 L382.64,223.27 L384.56,223.15 L386.48,223.03 L388.39,222.92 L390.31,222.80 L392.23,222.68 L394.14,222.57 L396.06,222.46 L397.97,222.34 L399.89,222.23 L401.81,222.12 L403.72,222.01 L405.64,221.90 L407.56,221.79 L409.47,221.69 L411.39,221.58 L413.30,221.47 L415.22,221.37 L417.14,221.26 L419.05,221.16 L420.97,221.06 L422.89,220.96 L424.80,220.85 L426.72,220.75 L428.63,220.65 L430.55,220.55" fill="none" stroke="#ff0000" stroke-width="2.50" stroke-linecap="round"/><path d="M77.22,259.11 L77.29,258.86 L77.37,258.61 L77.44,258.36 L77.52,258.11 L77.60,257.86 L77.68,257.61 L77.76,257.36 L77.84,257.11 L77.93,256.87 L78.01,256.62 L78.10,256.37 L78.19,256.12 L78.29,255.87 L78.38,255.62 L78.48,255.37 L78.57,255.12 L78.67,254.87 L78.78,254.62 L78.88,254.37 L78.99,254.12 L79.09,253.87 L79.20,253.62 L79.32,253.38 L79.43,253.13 L79.55,252.88 L79.67,252.63 L79.79,252.38 L79.92,252.13 L80.04,251.88 L80.17,251.63 L80.31,251.38 L80.44,251.14 L80.58,250.89 L80.72,250.64 L80.86,250.39 L81.01,250.14 L81.16,249.89 L81.31,249.64 L81.47,249.40 L81.63,249.15 L81.79,248.90 L81.95,248.65 L82.12,248.40 L82.29,248.16 L82.47,247.91 L82.65,247.66 L82.83,247.41 L83.02,247.16 L83.21,246.92 L83.40,246.67 L83.60,246.42 L83.80,246.17 L84.01,245.93 L84.22,245.68 L84.43,245.43 L84.65,245.18 L84.88,244.94 L85.10,244.69 L85.34,244.44 L85.57,244.20 L85.82,243.95 L86.06,243.70 L86.32,243.46 L86.57,243.21 L86.84,242.96 L87.10,242.72 L87.38,242.47 L87.66,242.22 L87.94,241.98 L88.23,241.73 L88.53,241.49 L88.83,241.24 L89.14,240.99 L89.45,240.75 L89.77,240.50 L90.10,240.26 L90.43,240.01 L90.77,239.77 L91.12,239.52 L91.48,239.28 L91.84,239.03 L92.21,238.79 L92.59,238.54 L92.97,238.30 L93.36,238.06 L93.76,237.81 L94.17,237.57 L94.59,237.32 L95.01,237.08 L95.45,236.84 L95.89,236.59 L96.34,236.35 L96.80,236.11 L97.27,235.86 L97.75,235.62 L98.24,235.38 L98.74,235.14 L99.25,234.89 L99.77,234.65 L100.30,234.41 L100.84,234.17 L101.39,233.93 L101.96,233.69 L102.53,233.44 L103.12,233.20 L103.72,232.96 L104.33,232.72 L104.95,232.48 L105.59,232.24 L106.24,232.00 L106.90,231.76 L107.57,231.52 L108.26,231.28 L108.97,231.04 L109.68,230.81 L110.41,230.57 L111.16,230.33 L111.92,230.09 L112.70,229.85 L113.49,229.62 L114.30,229.38 L115.13,229.14 L115.97,228.91 L116.83,228.67 L117.71,228.43 L118.60,228.20 L119.51,227.96 L120.45,227.73 L121.40,227.49 L122.37,227.26 L123.36,227.02 L124.37,226.79 L125.40,226.56 L126.45,226.32 L127.52,226.09 L128.61,225.86 L129.73,225.63 L130.87,225.39 L132.03,225.16 L133.21,224.93 L134.42,224.70 L135.66,224.47 L136.92,224.24 L138.20,224.01 L139.51,223.78 L140.85,223.56 L142.22,223.33 L143.61,223.10 L145.03,222.87 L146.95,222.57 L148.86,222.28 L150.78,222.00 L152.69,221.73 L154.61,221.46 L156.53,221.20 L158.44,220.95 L160.36,220.70 L162.28,220.46 L164.19,220.23 L166.11,220.00 L168.02,219.77 L169.94,219.55 L171.86,219.34 L173.77,219.13 L175.69,218.93 L177.61,218.73 L179.52,218.53 L181.44,218.34 L183.35,218.15 L185.27,217.96 L187.19,217.78 L189.10,217.61 L191.02,217.43 L192.94,217.26 L194.85,217.09 L196.77,216.93 L198.68,216.77 L200.60,216.61 L202.52,216.46 L204.43,216.30 L206.35,216.15 L208.27,216.00 L210.18,215.86 L212.10,215.72 L214.01,215.58 L215.93,215.44 L217.85,215.30 L219.76,215.17 L221.68,215.04 L223.60,214.91 L225.51,214.78 L227.43,214.66 L229.34,214.53 L231.26,214.41 L233.18,214.29 L235.09,214.17 L237.01,214.06 L238.93,213.94 L240.84,213.83 L242.76,213.72 L244.67,213.61 L246.59,213.50 L248.51,213.39 L250.42,213.29 L252.34,213.18 L254.26,213.08 L256.17,212.98 L258.09,212.88 L260.00,212.78 L261.92,212.68 L263.84,212.59 L265.75,212.49 L267.67,212.40 L269.59,212.31 L271.50,212.22 L273.42,212.13 L275.33,212.04 L277.25,211.95 L279.17,211.86 L281.08,211.78 L283.00,211.69 L284.92,211.61 L286.83,211.53 L288.75,211.45 L290.66,211.37 L292.58,211.29 L294.50,211.21 L296.41,211.13 L298.33,211.05 L300.25,210.98 L302.16,210.90 L304.08,210.83 L305.99,210.75 L307.91,210.68 L309.83,210.61 L311.74,210.54 L313.66,210.47 L315.58,210.40 L317.49,210.33 L319.41,210.26 L321.32,210.19 L323.24,210.13 L325.16,210.06 L327.07,210.00 L328.99,209.93 L330.91,209.87 L332.82,209.81 L334.74,209.74 L336.65,209.68 L338.57,209.62 L340.49,209.56 L342.40,209.50 L344.32,209.44 L346.24,209.38 L348.15,209.32 L350.07,209.27 L351.98,209.21 L353.90,209.15 L355.82,209.10 L357.73,209.04 L359.65,208.99 L361.57,208.93 L363.48,208.88 L365.40,208.82 L367.31,208.77 L369.23,208.72 L371.15,208.67 L373.06,208.62 L374.98,208.57 L376.90,208.52 L378.81,208.47 L380.73,208.42 L382.64,208.37 L384.56,208.32 L386.48,208.27 L388.39,208.22 L390.31,208.18 L392.23,208.13 L394.14,208.08 L396.06,208.04 L397.97,207.99 L399.89,207.95 L401.81,207.90 L403.72,207.86 L405.64,207.81 L407.56,207.77 L409.47,207.73 L411.39,207.68 L413.30,207.64 L415.22,207.60 L417.14,207.56 L419.05,207.52 L420.97,207.48 L422.89,207.44 L424.80,207.40 L426.72,207.36 L428.63,207.32 L430.55,207.28" fill="none" stroke="#000000" stroke-width="2.50" stroke-linecap="round"/></g><g fill="#000"><text x="54.46" y="205.60" font-size="17.20" text-anchor="start" textLength="9.02" lengthAdjust="spacingAndGlyphs">1</text><text x="28.38" y="263.00" font-size="17.20" text-anchor="start" textLength="35.00" lengthAdjust="spacingAndGlyphs">0.01</text><text x="60.89" y="511.00" font-size="17.20" text-anchor="start" textLength="25.35" lengthAdjust="spacingAndGlyphs">0.0</text><text x="132.39" y="511.00" font-size="17.20" text-anchor="start" textLength="25.29" lengthAdjust="spacingAndGlyphs">0.2</text><text x="203.93" y="511.00" font-size="17.20" text-anchor="start" textLength="24.29" lengthAdjust="spacingAndGlyphs">0.4</text><text x="275.12" y="511.00" font-size="17.20" text-anchor="start" textLength="24.81" lengthAdjust="spacingAndGlyphs">0.6</text><text x="346.68" y="511.00" font-size="17.20" text-anchor="start" textLength="25.00" lengthAdjust="spacingAndGlyphs">0.8</text><text x="91.87" y="226.20" font-size="16.60" text-anchor="start" textLength="31.43" lengthAdjust="spacingAndGlyphs">N=2</text><text x="164.20" y="238.80" font-size="16.60" text-anchor="start" textLength="31.21" lengthAdjust="spacingAndGlyphs">N=3</text><text x="234.20" y="251.10" font-size="16.60" text-anchor="start" textLength="31.36" lengthAdjust="spacingAndGlyphs">N=4</text><text x="307.85" y="285.40" font-size="16.60" text-anchor="start" textLength="32.33" lengthAdjust="spacingAndGlyphs">N=6</text><text x="379.07" y="349.00" font-size="16.60" text-anchor="start" textLength="31.85" lengthAdjust="spacingAndGlyphs">N=8</text><text x="30.65" y="323.00" font-size="17.20" text-anchor="start" textLength="20.44" lengthAdjust="spacingAndGlyphs">10</text><text x="51.11" y="315.00" font-size="13.40" text-anchor="start" textLength="11.65" lengthAdjust="spacingAndGlyphs">-4</text><text x="30.65" y="380.00" font-size="17.20" text-anchor="start" textLength="20.44" lengthAdjust="spacingAndGlyphs">10</text><text x="51.21" y="372.00" font-size="13.40" text-anchor="start" textLength="11.62" lengthAdjust="spacingAndGlyphs">-6</text><text x="30.65" y="438.00" font-size="17.20" text-anchor="start" textLength="20.44" lengthAdjust="spacingAndGlyphs">10</text><text x="51.17" y="430.00" font-size="13.40" text-anchor="start" textLength="11.82" lengthAdjust="spacingAndGlyphs">-8</text><text x="22.76" y="495.00" font-size="17.20" text-anchor="start" textLength="20.26" lengthAdjust="spacingAndGlyphs">10</text><text x="43.00" y="487.00" font-size="13.40" text-anchor="start" textLength="20.02" lengthAdjust="spacingAndGlyphs">-10</text><text x="246.11" y="531.30" font-size="19.00" text-anchor="start" textLength="12.07" lengthAdjust="spacingAndGlyphs">μ</text></g><text transform="translate(18.40,437.62) rotate(-90)" font-size="18.80" textLength="181.79" lengthAdjust="spacingAndGlyphs" fill="#000">Probability of success</text><g><rect x="243.4" y="419.95" width="180" height="59.1" fill="#fff" stroke="#999999" stroke-width="1.5"/><line x1="245.6" y1="433.9" x2="290.6" y2="433.9" stroke="#000" stroke-width="2.45" stroke-linecap="round"/><line x1="244.8" y1="465" x2="291.3" y2="465" stroke="#000" stroke-width="2.45" stroke-dasharray="4.8,3.3"/><g fill="#000" stroke="#000" stroke-width="0.2"><text x="297.07" y="441.00" font-size="18.40" textLength="12.74" lengthAdjust="spacingAndGlyphs" font-style="italic">P</text><text x="308.57" y="448.00" font-size="14.90" textLength="12.05" lengthAdjust="spacingAndGlyphs" font-style="italic">D</text><text x="297.08" y="472.00" font-size="18.40" textLength="54.21" lengthAdjust="spacingAndGlyphs" >Upper</text><text x="360.58" y="472.00" font-size="18.40" textLength="55.79" lengthAdjust="spacingAndGlyphs" >bound</text></g></g></svg></div></body></html>
